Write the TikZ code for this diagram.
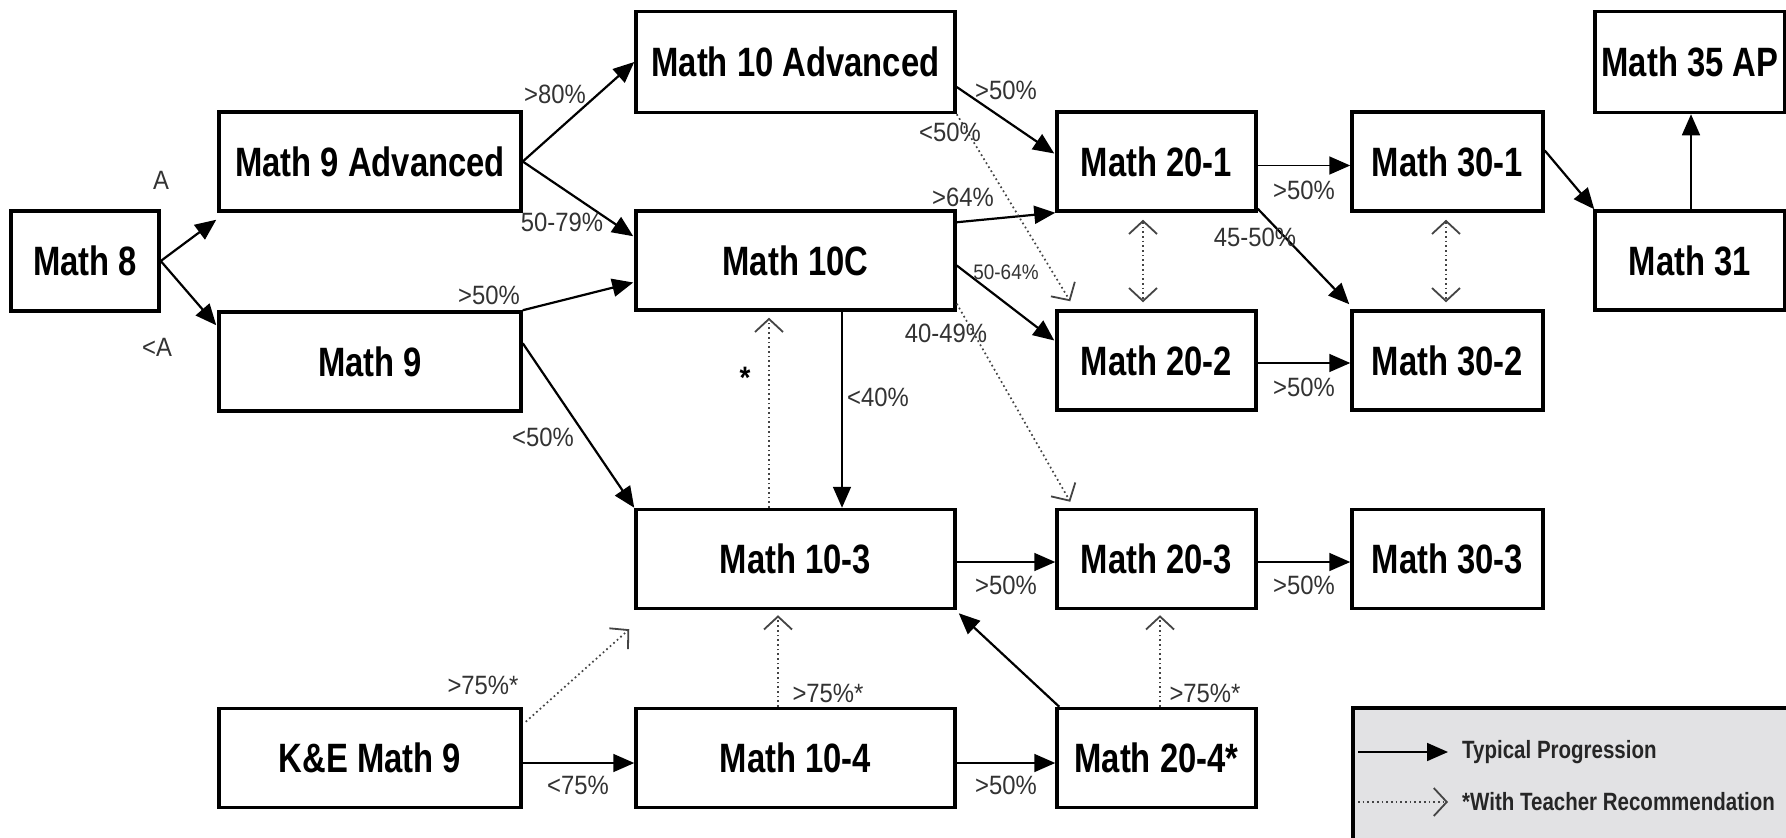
\documentclass[tikz,border=0pt]{standalone}
\usepackage{fontspec}
\setmainfont{Liberation Sans}
\newfontfamily\boxfont{Liberation Sans}[FakeStretch=0.8]
\newfontfamily\labfont{Liberation Sans}[FakeStretch=0.9]
\newfontfamily\legfont{Liberation Sans}[FakeStretch=0.82]
\usetikzlibrary{arrows.meta,calc}
\definecolor{leggray}{HTML}{E2E2E4}
\definecolor{dotgray}{HTML}{444444}
\tikzset{
  TipA/.tip={Triangle[length=21pt,width=18pt]},
  TipB/.tip={Straight Barb[length=13pt,width=28pt,line width=1.8pt]},
  box/.style={draw, line width=3.5pt, minimum height=99pt, inner sep=0pt, fill=white,
    font=\boxfont\bfseries\fontsize{41}{44}\selectfont, text=black},
  lab/.style={inner sep=0pt, text=black!80, font=\labfont\fontsize{26.5}{28}\selectfont},
  smalllab/.style={inner sep=0pt, text=black!80, font=\labfont\fontsize{21}{23}\selectfont},
  arr/.style={draw, line width=2.2pt, -TipA},
  thinarr/.style={draw, line width=1.7pt, -TipA},
  rec/.style={draw=dotgray, line width=1.7pt, dash pattern=on 1.7pt off 3pt, -TipB},
  recd/.style={draw=dotgray, line width=1.7pt, dash pattern=on 1.7pt off 3pt, TipB-TipB},
  legtext/.style={inner sep=0pt, anchor=west, text=black!85, font=\legfont\bfseries\fontsize{25}{27}\selectfont}
}
\begin{document}
\begin{tikzpicture}[x=1pt,y=-1pt]
\useasboundingbox (0,0) rectangle (1786,838);
\clip (0,0) rectangle (1786,838);
\fill[white] (0,0) rectangle (1786,838);

% boxes
\node[box, minimum width=148pt, minimum height=100pt] (m8) at (85,261) {Math 8};
\node[box, minimum width=302pt] (m9a) at (370,161.5) {Math 9 Advanced};
\node[box, minimum width=302pt] (m9) at (370,361.5) {Math 9};
\node[box, minimum width=302pt] (ke) at (370,758) {K\&E Math 9};
\node[box, minimum width=319pt, minimum height=101pt] (m10a) at (795.5,62) {Math 10 Advanced};
\node[box, minimum width=319pt] (m10c) at (795.5,260.5) {Math 10C};
\node[box, minimum width=319pt] (m103) at (795.5,559) {Math 10-3};
\node[box, minimum width=319pt] (m104) at (795.5,758) {Math 10-4};
\node[box, minimum width=199pt] (m201) at (1156.5,161.5) {Math 20-1};
\node[box, minimum width=199pt] (m202) at (1156.5,360.5) {Math 20-2};
\node[box, minimum width=199pt] (m203) at (1156.5,559) {Math 20-3};
\node[box, minimum width=199pt] (m204) at (1156.5,758) {Math 20-4*};
\node[box, minimum width=191pt] (m301) at (1447.5,161.5) {Math 30-1};
\node[box, minimum width=191pt] (m302) at (1447.5,360.5) {Math 30-2};
\node[box, minimum width=191pt] (m303) at (1447.5,559) {Math 30-3};
\node[box, minimum width=190pt, minimum height=101pt] (m35) at (1690,62) {Math 35 AP};
\node[box, minimum width=190pt] (m31) at (1690,260.5) {Math 31};

% typical progression
\path[arr] (m8.east) -- ($(m9a.south west)+(-1,7)$);
\path[arr] (m8.east) -- ($(m9.north west)+(-1,15)$);
\path[arr] (m9a.east) -- (m10a.west);
\path[arr] (m9a.east) -- ($(m10c.north west)+(-1,27)$);
\path[arr] (m9.north east) -- ($(m10c.west)+(-1,22)$);
\path[arr] ($(m9.north east)+(0,33)$) -- (m103.north west);
\path[arr] ($(m10a.east)+(0,25)$) -- ($(m201.west)+(-1,-8)$);
\path[arr] ($(m10c.north east)+(0,13)$) -- (m201.south west);
\path[arr] ($(m10c.east)+(0,5)$) -- ($(m202.west)+(-1,-20)$);
\path[thinarr] ($(m10c.south)+(46.5,0)$) -- ($(m103.north)+(46.5,0)$);
\path[thinarr] ($(m201.east)+(0,4)$) -- ($(m301.west)+(0,4)$);
\path[arr] ($(m201.south east)+(0,-4)$) -- ($(m302.north west)+(-1,-5)$);
\path[thinarr] ($(m202.east)+(0,2.5)$) -- ($(m302.west)+(0,2.5)$);
\path[arr] ($(m301.east)+(0,-11)$) -- ($(m31.north west)+(1,0)$);
\path[thinarr] ($(m31.north)+(1,0)$) -- ($(m35.south)+(1,0)$);
\path[thinarr] ($(m103.east)+(0,3)$) -- ($(m203.west)+(0,3)$);
\path[arr] ($(m204.north west)+(4,0)$) -- ($(m103.south east)+(2,3)$);
\path[thinarr] ($(m104.east)+(0,5)$) -- ($(m204.west)+(0,5)$);
\path[thinarr] ($(ke.east)+(0,5)$) -- ($(m104.west)+(0,5)$);
\path[thinarr] ($(m203.east)+(0,3)$) -- ($(m303.west)+(0,3)$);

% teacher recommendation
\path[rec] (m10a.south east) -- ($(m202.north west)+(15,-8)$);
\path[rec] ($(m10c.south east)+(0,-8)$) -- ($(m203.north west)+(15,-6)$);
\path[rec] ($(m103.north)+(-26.5,0)$) -- ($(m10c.south)+(-26.5,6)$);
\path[recd] ($(m201.south)+(-13.5,7)$) -- ($(m202.north)+(-13.5,-7)$);
\path[recd] ($(m301.south)+(-1.5,7)$) -- ($(m302.north)+(-1.5,-7)$);
\path[rec] ($(m104.north)+(-17.5,0)$) -- ($(m103.south)+(-17.5,5)$);
\path[rec] ($(m204.north)+(3.5,0)$) -- ($(m203.south)+(3.5,5)$);
\path[rec] ($(ke.north east)+(3,15)$) -- ($(m103.south west)+(-5,19)$);

% labels
\node[lab] (lA) at (161,180) {A};
\node[lab] (llA) at (157,347) {<A};
\node[lab] (l1) at (555,94) {>80\%};
\node[lab] (l2) at (562,222) {50-79\%};
\node[lab] (l3) at (489,295) {>50\%};
\node[lab] (l4) at (543,437) {<50\%};
\node[lab] (l5) at (1006,90) {>50\%};
\node[lab] (l6) at (950,132) {<50\%};
\node[lab] (l7) at (963,197) {>64\%};
\node[smalllab] (l8) at (1006,272) {50-64\%};
\node[lab] (l9) at (946,333) {40-49\%};
\node[lab] (l10) at (878,397) {<40\%};
\node[lab, text=black, font=\labfont\bfseries\fontsize{31}{33}\selectfont] (l11) at (745,378) {*};
\node[lab] (l12) at (1304,190) {>50\%};
\node[lab] (l13) at (1255,237) {45-50\%};
\node[lab] (l14) at (1304,387) {>50\%};
\node[lab] (l15) at (1006,585) {>50\%};
\node[lab] (l16) at (1304,585) {>50\%};
\node[lab] (l17) at (828,693) {>75\%*};
\node[lab] (l18) at (1205,693) {>75\%*};
\node[lab] (l19) at (1006,785) {>50\%};
\node[lab] (l20) at (578,785) {<75\%};
\node[lab] (l21) at (483,685) {>75\%*};

% legend
\node[draw, line width=3.5pt, fill=leggray, minimum width=446pt, minimum height=142pt, inner sep=0pt] (leg) at (1576,779) {};
\coordinate (ls1) at (1358,752);
\coordinate (le1) at (1448,752);
\coordinate (ls2) at (1358,802);
\coordinate (le2) at (1448,802);
\path[thinarr] (ls1) -- (le1);
\path[rec] (ls2) -- (le2);
\node[legtext] (t1) at (1462,752) {Typical Progression};
\node[legtext] (t2) at (1462,802) {*With Teacher Recommendation};
\end{tikzpicture}
\end{document}
